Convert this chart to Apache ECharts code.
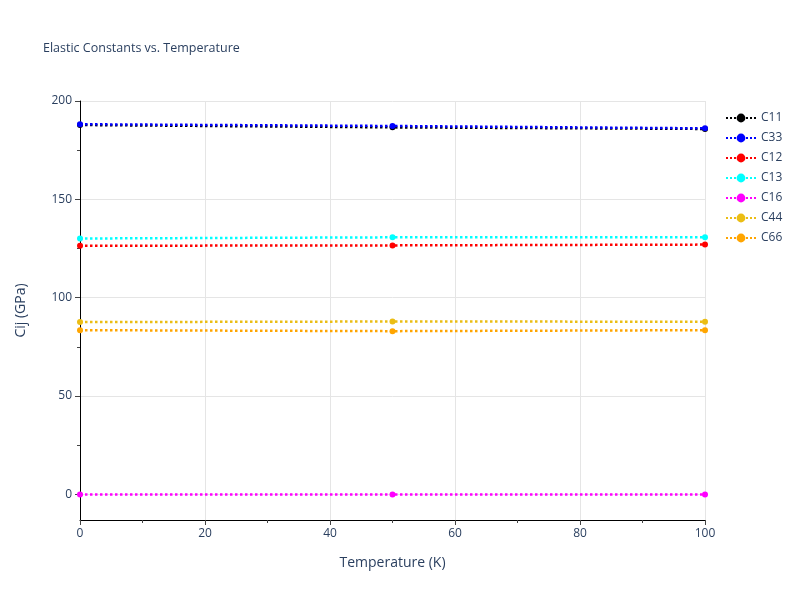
<!DOCTYPE html>
<html>
<head>
<meta charset="utf-8">
<script src="https://cdn.jsdelivr.net/npm/echarts@6/dist/echarts.min.js"></script>
</head>
<body style="margin:0">
<div id="main" style="width:800px;height:600px;"></div>
<script>
var temps = [0, 50, 100];
var names = ['C11', 'C33', 'C12', 'C13', 'C16', 'C44', 'C66'];
var colors = ['#000000', '#0000ff', '#ff0000', '#00ffff', '#ff00ff', '#ebbd14', '#ffa500'];
var c11 = [187.8, 186.6, 185.8];
var c33 = [188.2, 187.3, 186.1];
var c12 = [126.4, 126.6, 127.0];
var c13 = [130.1, 130.7, 130.8];
var c16 = [0, 0, 0];
var c44 = [87.6, 87.9, 87.8];
var c66 = [83.5, 83.0, 83.5];
var values = [c11, c33, c12, c13, c16, c44, c66];
var yMajor = [0, 50, 100, 150, 200];
var yMinor = [25, 75, 125, 175];

var myChart = echarts.init(document.getElementById('main'));
var txt = '#2a3f5f';
var series = names.map(function (n, i) {
    return {
        name: n,
        type: 'line',
        data: temps.map(function (t, j) { return [t, values[i][j]]; }),
        symbol: 'circle',
        symbolSize: 6,
        itemStyle: { color: colors[i] },
        lineStyle: { color: colors[i], type: 'dotted', width: 2.5 },
        z: i === 1 ? 3 : 2
    };
});
myChart.setOption({
    animation: false,
    title: {
        text: 'Elastic Constants vs. Temperature',
        left: 38, top: 37,
        textStyle: { fontFamily: 'Open Sans', fontSize: 12.5, fontWeight: 'normal', color: txt }
    },
    legend: {
        orient: 'vertical', left: 720, top: 107, itemGap: 8,
        itemWidth: 30, itemHeight: 11,
        textStyle: { fontFamily: 'Open Sans', fontSize: 12, color: txt },
        data: names
    },
    grid: { left: 80, right: 95, top: 101, bottom: 80 },
    xAxis: {
        type: 'value', min: 0, max: 100, interval: 20,
        name: 'Temperature (K)', nameLocation: 'middle', nameGap: 36,
        nameTextStyle: { fontFamily: 'Open Sans', fontSize: 14, color: txt },
        axisLine: { show: true, onZero: false, lineStyle: { color: '#000' } },
        axisTick: { show: true, length: 5, lineStyle: { color: '#444' } },
        minorTick: { show: true, splitNumber: 2, length: 3, lineStyle: { color: '#444' } },
        axisLabel: { fontFamily: 'Open Sans', fontSize: 12, color: txt },
        splitLine: { lineStyle: { color: '#e5e5e5', width: 1 } }
    },
    yAxis: [{
        type: 'value', min: -13, max: 200,
        name: 'Cij (GPa)', nameLocation: 'middle', nameGap: 52,
        nameTextStyle: { fontFamily: 'Open Sans', fontSize: 14, color: txt },
        axisLine: { show: true, lineStyle: { color: '#000' } },
        axisLabel: { fontFamily: 'Open Sans', fontSize: 12, color: txt, customValues: yMajor },
        axisTick: { show: true, length: 5, lineStyle: { color: '#444' }, customValues: yMajor },
        splitLine: { lineStyle: { color: '#e5e5e5', width: 1 } }
    }, {
        type: 'value', min: -13, max: 200, position: 'left',
        axisLine: { show: false },
        axisLabel: { show: false, customValues: yMinor },
        axisTick: { show: true, length: 3, lineStyle: { color: '#444' }, customValues: yMinor },
        splitLine: { show: false }
    }],
    series: series
});
</script>
</body>
</html>
